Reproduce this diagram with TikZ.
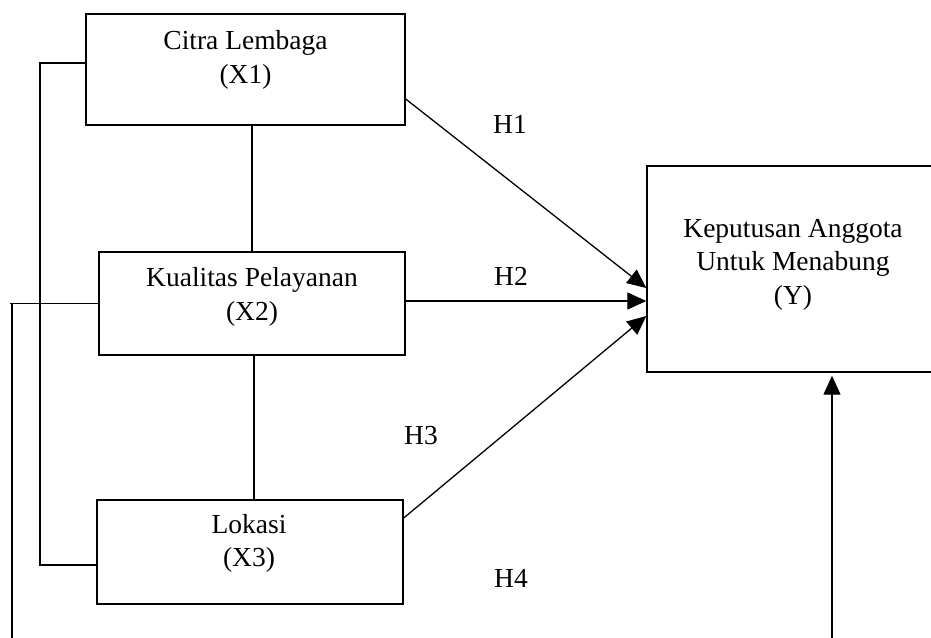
\documentclass[tikz,border=0pt]{standalone}
\usepackage{fontspec}
\setmainfont{Liberation Serif}
\usetikzlibrary{arrows.meta}
\begin{document}
\begin{tikzpicture}[x=1pt,y=-1pt,
  box/.style={draw, line width=1.4pt, rectangle, inner sep=0pt},
  txt/.style={align=center, inner sep=0pt, font=\fontsize{27.5}{33.5}\selectfont},
  lbl/.style={inner sep=0pt, font=\fontsize{27.5}{33}\selectfont},
  conn/.style={line width=1.3pt},
  arr/.style={line width=1.3pt, -{Triangle[length=19pt,width=17pt]}}]
\useasboundingbox (0,0) rectangle (931,637);
\clip (0,0) rectangle (931,637);
% boxes
\node[box, minimum width=319pt, minimum height=111pt] (x1) at (245.5,69.5) {};
\node[box, minimum width=306pt, minimum height=103pt] (x2) at (252,303.5) {};
\node[box, minimum width=306pt, minimum height=104pt] (x3) at (250,552) {};
\node[box, minimum width=303pt, minimum height=206pt] (y) at (798.5,269) {};
% texts
\node[txt] (x1t) at (245.5,60) {Citra Lembaga\\(X1)};
\node[txt] (x2t) at (252,297) {Kualitas Pelayanan\\(X2)};
\node[txt] (x3t) at (249,543.5) {Lokasi\\(X3)};
\node[txt] (yt) at (793,264.5) {Keputusan Anggota\\Untuk Menabung\\(Y)};
% labels
\node[lbl] (h1) at (510,124) {H1};
\node[lbl] (h2) at (511,276) {H2};
\node[lbl] (h3) at (421,436) {H3};
\node[lbl] (h4) at (511,578) {H4};
% free-end coordinates
\coordinate (lb1) at (40,63);
\coordinate (lb2) at (40,565);
\coordinate (lc1) at (12,303.5);
\coordinate (lc2) at (12,640);
\coordinate (yb) at (832,640);
% left bracket linking X1 and X3
\draw[conn] ([yshift=6.5pt]x1.west) -- (lb1) -- (lb2) -- ([yshift=-13pt]x3.west);
% line from X2 going down the left
\draw[conn] (x2.west) -- ([xshift=-2pt]lc1);
\draw[conn] (lc1) -- (lc2);
% vertical links
\draw[conn] ([xshift=6.5pt]x1.south) -- (x2.north);
\draw[conn] ([xshift=2pt]x2.south) -- ([xshift=2pt]x2.south |- x3.north);
% arrows to Y
\draw[arr] ([yshift=-29.5pt]x1.east) -- ([yshift=-19pt]y.west);
\draw[arr] ([yshift=2.5pt]x2.east) -- ([yshift=-32pt]y.west);
\draw[arr] ([yshift=34pt]x3.east) -- ([yshift=-47pt]y.west);
\draw[arr] (yb) -- ([yshift=-3pt]y.south -| yb);
\end{tikzpicture}
\end{document}
